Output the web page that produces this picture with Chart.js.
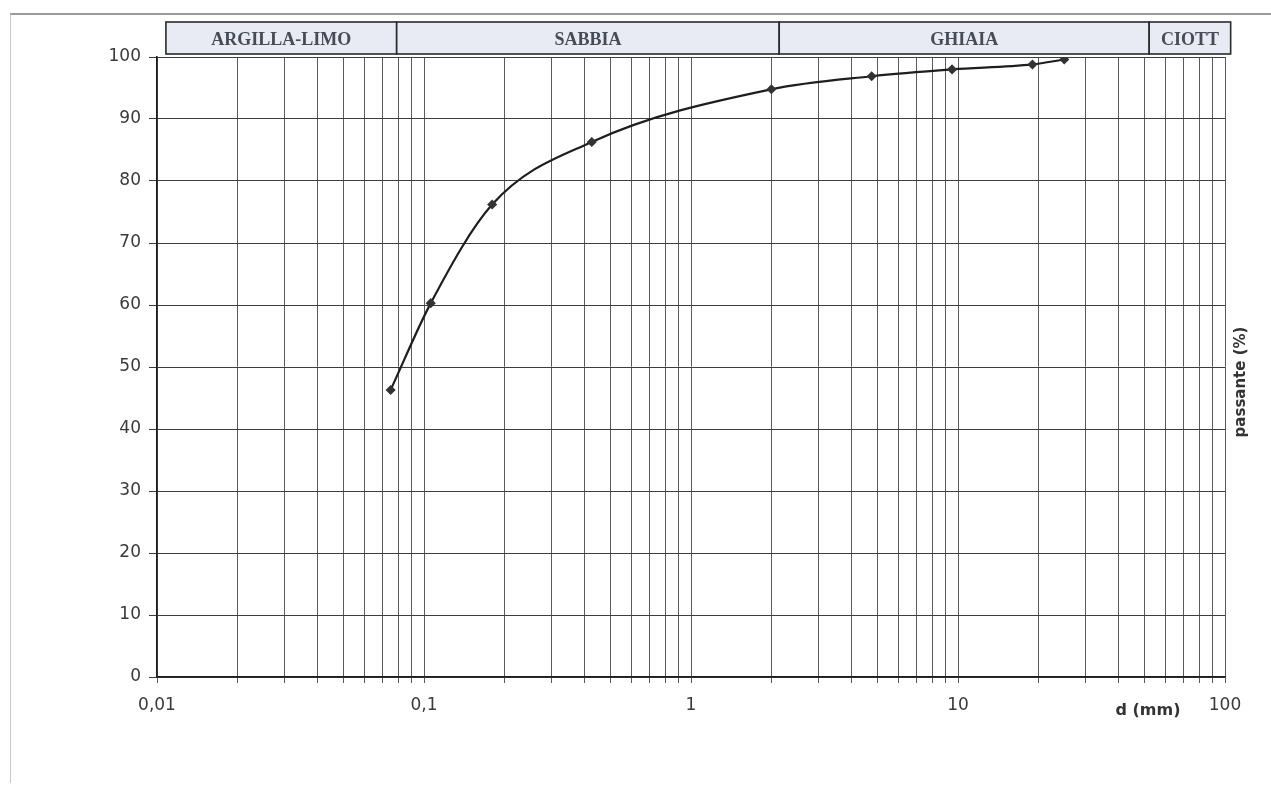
<!DOCTYPE html>
<html>
<head>
<meta charset="utf-8">
<script src="https://cdn.jsdelivr.net/npm/chart.js@4.4.1/dist/chart.umd.min.js"></script>
<style>
  html, body { margin: 0; padding: 0; background: #ffffff; }
  #wrap { position: relative; width: 1271px; height: 809px; }
  #frame { position: absolute; left: 10px; top: 13px; width: 1261px; height: 770px;
           border-top: 2px solid #9a9a9a; border-left: 1px solid #c8c8c8; box-sizing: border-box; }
  canvas { position: absolute; left: 0; top: 0; }
</style>
</head>
<body>
<div id="wrap">
  <div id="frame"></div>
  <canvas id="c" width="1271" height="809"></canvas>
</div>
<script>
// ---- data ----
const diameters = [0.075, 0.106, 0.18, 0.425, 2, 4.75, 9.5, 19, 25];
const passing   = [46.3, 60.3, 76.2, 86.3, 94.8, 96.9, 98.0, 98.8, 99.6];

const bandLabels = ['ARGILLA-LIMO', 'SABBIA', 'GHIAIA', 'CIOTT'];
const bandEdges  = [0.0108, 0.079, 2.14, 52, 105];

const xMajorLabels = { 0.01: '0,01', 0.1: '0,1', 1: '1', 10: '10', 100: '100' };
const yTickValues = [0, 10, 20, 30, 40, 50, 60, 70, 80, 90, 100];
const xTitle = 'd (mm)';
const yTitle = 'passante (%)';

// log grid tick values 0.01 .. 100
const xTickValues = [];
[0.01, 0.1, 1, 10].forEach(d => { for (let m = 1; m <= 9; m++) xTickValues.push(+(m * d).toPrecision(3)); });
xTickValues.push(100);

const bandPlugin = {
  id: 'bands',
  afterDraw(chart) {
    const ctx = chart.ctx;
    const xs = chart.scales.x;
    const top = 22, bottom = 54;
    ctx.save();
    for (let i = 0; i < bandLabels.length; i++) {
      const x0 = xs.getPixelForValue(bandEdges[i]);
      const x1 = xs.getPixelForValue(bandEdges[i + 1]);
      ctx.fillStyle = '#e8ebf4';
      ctx.fillRect(x0, top, x1 - x0, bottom - top);
      ctx.strokeStyle = '#2a2a2a';
      ctx.lineWidth = 1.6;
      ctx.strokeRect(x0, top, x1 - x0, bottom - top);
      ctx.fillStyle = '#464b56';
      ctx.font = 'bold 18px "Liberation Serif", "DejaVu Serif", serif';
      ctx.textAlign = 'center';
      ctx.textBaseline = 'middle';
      ctx.fillText(bandLabels[i], (x0 + x1) / 2, (top + bottom) / 2 + 2);
    }
    // axis titles
    ctx.fillStyle = '#333333';
    ctx.font = 'bold 16px "DejaVu Sans", sans-serif';
    ctx.textAlign = 'center';
    ctx.textBaseline = 'middle';
    ctx.fillText(xTitle, 1148, 711);
    ctx.font = 'bold 15px "DejaVu Sans", sans-serif';
    ctx.translate(1241, 382);
    ctx.rotate(-Math.PI / 2);
    ctx.fillText(yTitle, 0, 0);
    ctx.restore();
  }
};

new Chart(document.getElementById('c'), {
  type: 'line',
  data: {
    datasets: [{
      data: diameters.map((d, i) => ({ x: d, y: passing[i] })),
      borderColor: '#1e1e1e',
      borderWidth: 2.2,
      cubicInterpolationMode: 'monotone',
      pointStyle: 'rectRot',
      pointRadius: 3.5,
      pointBackgroundColor: '#333333',
      pointBorderColor: '#333333',
      fill: false
    }]
  },
  options: {
    responsive: false,
    animation: false,
    events: [],
    layout: { padding: { left: 0, right: 46, top: 57, bottom: 0 } },
    plugins: { legend: { display: false }, tooltip: { enabled: false } },
    scales: {
      x: {
        type: 'logarithmic',
        min: 0.01, max: 100,
        afterBuildTicks(scale) { scale.ticks = xTickValues.map(v => ({ value: v })); },
        afterFit(scale) { scale.height = 809 - 677; },
        ticks: {
          autoSkip: false, maxRotation: 0, minRotation: 0, padding: 12,
          color: '#3a3a3a',
          font: { family: '"DejaVu Sans", sans-serif', size: 17 },
          callback(value) {
            const k = Object.keys(xMajorLabels).find(key => Math.abs(+key - value) < value * 1e-6);
            return k !== undefined ? xMajorLabels[k] : '';
          }
        },
        grid: { color: '#5a5a5a', lineWidth: 1, tickLength: 6, drawTicks: true },
        border: { color: '#1e1e1e', width: 1.6 }
      },
      y: {
        min: 0, max: 100,
        afterBuildTicks(scale) { scale.ticks = yTickValues.map(v => ({ value: v })); },
        afterFit(scale) { scale.width = 157; },
        ticks: {
          padding: 8,
          color: '#3a3a3a',
          font: { family: '"DejaVu Sans", sans-serif', size: 17 }
        },
        grid: { color: '#3c3c3c', lineWidth: 1, tickLength: 8 },
        border: { color: '#1e1e1e', width: 1.6 }
      }
    }
  },
  plugins: [bandPlugin]
});
</script>
</body>
</html>
